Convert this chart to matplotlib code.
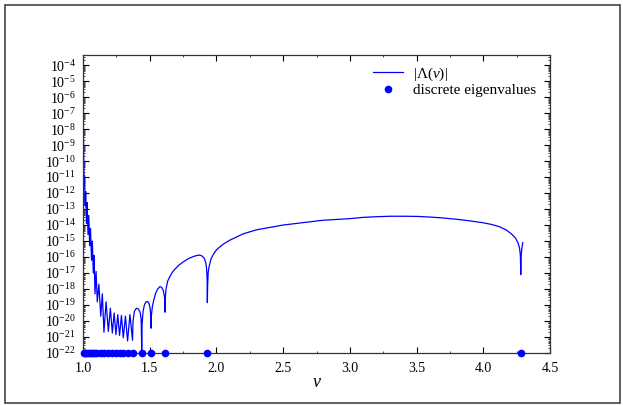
import numpy as np
import matplotlib
matplotlib.use('Agg')
import matplotlib.pyplot as plt
from matplotlib.patches import Rectangle
from matplotlib.ticker import LogLocator, MultipleLocator, NullFormatter

plt.rcParams['font.family'] = ['Liberation Serif', 'DejaVu Serif']
plt.rcParams['mathtext.fontset'] = 'custom'
plt.rcParams['mathtext.rm'] = 'Liberation Serif'
plt.rcParams['mathtext.it'] = 'Liberation Serif:italic'

eig_nu = [1.0075, 1.0165, 1.026, 1.0375, 1.050, 1.064, 1.077, 1.090, 1.107,
          1.133, 1.157, 1.190, 1.220, 1.247, 1.274, 1.302, 1.334, 1.371,
          1.440, 1.510, 1.615, 1.932, 4.281]

# |Lambda(nu)|, as log10 values
curve_nu = [1.000, 1.003, 1.006, 1.0075, 1.011, 1.0165, 1.020, 1.026, 1.031,
            1.0375, 1.043, 1.050, 1.056, 1.064, 1.070, 1.077, 1.083, 1.090,
            1.098, 1.107, 1.119, 1.133, 1.145, 1.157, 1.173, 1.190, 1.205,
            1.220, 1.2335, 1.247, 1.2605, 1.274, 1.288, 1.302, 1.318, 1.334,
            1.352, 1.371,
            1.375, 1.385, 1.40, 1.415, 1.428, 1.436, 1.440,
            1.443, 1.45, 1.46, 1.472, 1.485, 1.495, 1.503, 1.508, 1.510,
            1.513, 1.52, 1.53, 1.545, 1.56, 1.577, 1.59, 1.602, 1.61, 1.613, 1.615,
            1.617, 1.622, 1.635, 1.652, 1.67, 1.69, 1.72, 1.752, 1.79, 1.827,
            1.855, 1.875, 1.895, 1.91, 1.92, 1.926, 1.93, 1.932,
            1.934, 1.938, 1.945, 1.96, 1.98, 2.0, 2.05, 2.1, 2.15, 2.2, 2.3,
            2.4, 2.5, 2.6, 2.7, 2.8, 2.9, 3.0, 3.1, 3.2, 3.3, 3.4, 3.5, 3.6,
            3.7, 3.8, 3.9, 4.0, 4.06, 4.12, 4.17, 4.21, 4.24, 4.26, 4.272,
            4.278, 4.281, 4.284, 4.29, 4.296]
curve_log = [-3.0, -8.0, -10.2, -11.6, -10.9, -12.8, -11.9, -13.9, -12.6,
             -14.6, -13.4, -15.3, -14.2, -16.2, -15.0, -17.0, -15.9, -18.3,
             -16.9, -18.8, -17.7, -19.7, -18.3, -20.7, -18.8, -20.65, -19.2,
             -20.75, -19.5, -20.85, -19.6, -20.9, -19.65, -21.05, -19.7, -21.25,
             -19.6, -21.2,
             -20.0, -19.4, -19.2, -19.25, -19.45, -19.9, -21.8,
             -20.2, -19.4, -19.0, -18.8, -18.78, -18.9, -19.2, -19.7, -20.45,
             -19.6, -19.1, -18.7, -18.25, -18.0, -17.85, -17.9, -18.1, -18.45, -18.8, -19.45,
             -18.6, -18.0, -17.5, -17.2, -16.95, -16.75, -16.5, -16.3, -16.1, -15.97,
             -15.9, -15.88, -15.95, -16.1, -16.35, -16.7, -17.3, -18.85,
             -17.8, -17.0, -16.6, -16.1, -15.8, -15.55, -15.2, -14.95, -14.75, -14.55, -14.3,
             -14.15, -14.0, -13.9, -13.8, -13.7, -13.65, -13.6, -13.52, -13.48, -13.45, -13.45, -13.46, -13.5,
             -13.56, -13.64, -13.74, -13.86, -13.96, -14.1, -14.3, -14.55, -14.8, -15.1, -15.45,
             -15.9, -17.1, -15.9, -15.4, -15.1]

fig = plt.figure(figsize=(6.23, 4.05), dpi=100)
fig.patches.append(Rectangle((5 / 623, 2 / 405), 615 / 623, 398 / 405,
                             transform=fig.transFigure, fill=False,
                             edgecolor='#444444', linewidth=1.2))
ax = fig.add_axes([83 / 623, 52 / 405, 467 / 623, 298 / 405])

ax.plot(curve_nu, 10.0 ** np.array(curve_log), color='#0000ff', lw=0.9,
        label=r'|$\Lambda(\nu)$|')
ax.plot(eig_nu, [1e-22] * len(eig_nu), 'o', color='#0000ff', ms=4.5,
        clip_on=False, zorder=5, label='discrete eigenvalues')

ax.set_yscale('log')
ax.set_xlim(1.0, 4.5)
ax.set_ylim(1e-22, 10 ** -3.37)
ax.xaxis.set_major_locator(MultipleLocator(0.5))
ax.xaxis.set_minor_locator(MultipleLocator(0.25))
ax.yaxis.set_major_locator(LogLocator(base=10, numticks=40))
ax.yaxis.set_minor_locator(LogLocator(base=10, subs=np.arange(2, 10), numticks=40))
ax.yaxis.set_minor_formatter(NullFormatter())
ax.set_xticklabels(['%.1f' % t for t in ax.get_xticks()])
ax.tick_params(which='both', direction='in', top=True, right=True, labelsize=10)
ax.tick_params(axis='x', which='major', pad=6.5)
ax.tick_params(axis='y', which='major', pad=5)
ax.tick_params(which='major', length=4, width=0.8)
ax.tick_params(which='minor', length=1.5, width=0.5)
for s in ax.spines.values():
    s.set_linewidth(0.9)
    s.set_color('#333333')

ax.set_xlabel(r'$\nu$', fontsize=13, labelpad=-1)
ax.legend(loc='upper right', bbox_to_anchor=(0.983, 0.985), borderaxespad=0,
          frameon=False, fontsize=11, handlelength=1.95, handletextpad=0.65,
          labelspacing=0.05)

fig.savefig('out.png', dpi=100)
